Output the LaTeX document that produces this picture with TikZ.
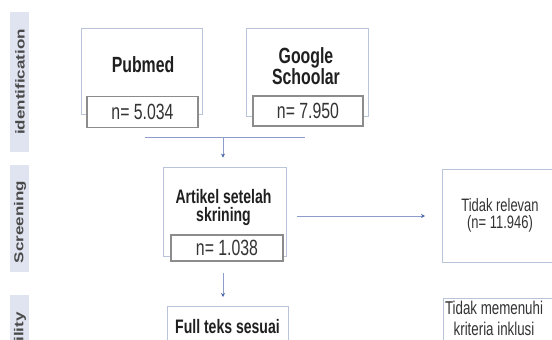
\documentclass[tikz,border=0pt]{standalone}
\usepackage{fontspec}
\setmainfont{Liberation Sans}
\newfontfamily\narrowsf[FakeStretch=0.72]{Liberation Sans}
\usetikzlibrary{arrows.meta}

\definecolor{boxline}{HTML}{B9C3DA}
\definecolor{numline}{HTML}{8C8C8C}
\definecolor{flowline}{HTML}{8C9DCB}
\definecolor{tipblue}{HTML}{4D68AD}
\definecolor{stagefill}{HTML}{DFE4F0}
\definecolor{stagetext}{HTML}{4A4A4A}

\tikzset{
  outerbox/.style={draw=boxline, line width=0.9pt, fill=white, inner sep=0pt},
  numbox/.style={draw=numline, line width=1.1pt, fill=white, inner sep=0pt,
    text=black!80, font=\narrowsf\fontsize{22}{24}\selectfont},
  headtext/.style={align=center, inner sep=0pt, text=black!88,
    font=\narrowsf\bfseries\fontsize{22}{20}\selectfont},
  sidetext/.style={align=center, inner sep=0pt, text=black!80,
    font=\narrowsf\fontsize{18}{17}\selectfont},
  stagebar/.style={fill=stagefill, draw=none, minimum width=19pt, inner sep=0pt},
  stagetitle/.style={rotate=90, inner sep=0pt, text=stagetext,
    font=\bfseries\fontsize{17}{17}\selectfont},
  flow/.style={draw=flowline, line width=0.9pt,
    -{Stealth[length=4pt,width=4pt,color=tipblue]}}
}

\begin{document}
\begin{tikzpicture}[x=1pt, y=-1pt]
  \useasboundingbox (0,0) rectangle (552,340);
  \clip (0,0) rectangle (552,340);

  % stage bars on the left
  \node (idbar) at (19.5,82) [stagebar, minimum height=140pt] {};
  \node (scbar) at (19.5,218.5) [stagebar, minimum height=107pt] {};
  \node (elbar) at (19.5,360) [stagebar, minimum height=130pt] {};
  \node (idtitle) at (20,82) [stagetitle] {\scalebox{1}[0.76]{identification}};
  \node (sctitle) at (20,222) [stagetitle] {\scalebox{1}[0.76]{Screening}};
  \node (eltitle) at (20,350) [stagetitle] {\scalebox{1}[0.76]{Eligibility}};

  % identification
  \node (pubmed) at (141.5,71) [outerbox, minimum width=121pt, minimum height=86pt] {};
  \node (pubmedtxt) at (143,65) [headtext] {Pubmed};
  \node (pubmedn) at (142.5,112) [numbox, minimum width=111pt, minimum height=31pt] {n= 5.034};

  \node (google) at (307,72) [outerbox, minimum width=122pt, minimum height=88pt] {};
  \node (googletxt) at (306,66) [headtext] {Google\\Schoolar};
  \node (googlen) at (308,111) [numbox, minimum width=110pt, minimum height=30pt] {n= 7.950};

  \coordinate (joinl) at (145,137);
  \coordinate (joinr) at (305,137);
  \coordinate (join) at (223,137);
  \draw [draw=flowline, line width=0.9pt] (joinl) -- (joinr);

  % screening
  \node (artikel) at (224.5,211.5) [outerbox, minimum width=123pt, minimum height=89pt] {};
  \node (artikeltxt) at (223.5,207) [headtext, font=\narrowsf\bfseries\fontsize{19.5}{18}\selectfont] {Artikel setelah\\skrining};
  \node (artikeln) at (227,248) [numbox, minimum width=112pt, minimum height=26pt] {n= 1.038};

  \node (relevan) at (499,215.5) [outerbox, minimum width=114pt, minimum height=93pt] {};
  \node (relevantxt) at (500,215) [sidetext] {Tidak relevan\\(n= 11.946)};

  \draw [flow, shorten >=9pt] (join) -- (join |- artikel.north);
  \coordinate (outl) at (297,216);
  \coordinate (outr) at (425,216);
  \draw [flow] (outl) -- (outr);

  % eligibility
  \node (fullteks) at (227.5,353) [outerbox, minimum width=121pt, minimum height=94pt] {};
  \node (fulltekstxt) at (227.5,333) [headtext, anchor=base, font=\narrowsf\bfseries\fontsize{19.5}{18}\selectfont] {Full teks sesuai};

  \node (kriteria) at (499.5,349) [outerbox, minimum width=113pt, minimum height=102pt] {};
  \node (kriteriatxt) at (494,301) [sidetext, anchor=north, font=\narrowsf\fontsize{18.5}{21}\selectfont] {Tidak memenuhi\\kriteria inklusi};

  \coordinate (downa) at (223,273);
  \coordinate (downb) at (223,297);
  \draw [flow] (downa) -- (downb);
\end{tikzpicture}
\end{document}
